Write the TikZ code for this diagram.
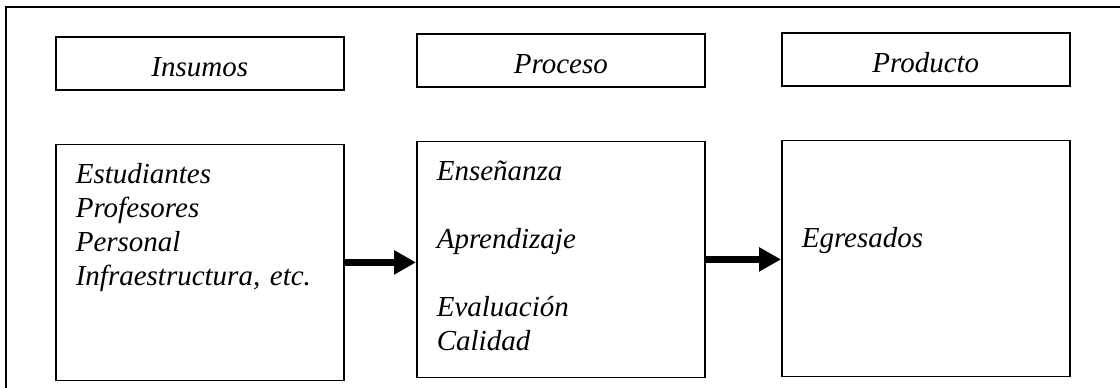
\documentclass[tikz,border=0pt]{standalone}
\usepackage{fontspec}
\setmainfont{Liberation Serif}
\usetikzlibrary{arrows.meta}
\usetikzlibrary{positioning}
\tikzset{
  part/.style={
    draw,
    black,
    rectangle,
    line width=1.6pt,
    inner sep=0pt,
    node font=\fontsize{29pt}{34pt}\selectfont\itshape,
  },
  header/.style={
    part,
    anchor=north west,
    minimum width=288pt,
    text height=40pt,
    text depth=13pt,
  },
  body/.style={
    part,
    text width=248pt,
    inner xsep=20pt,
    align=left,
    text height=39pt,
    text depth=197pt,
    node distance=53pt,
  },
  flow/.style={
    draw,
    -{Triangle[length=22pt,width=23pt]},
    line width=7pt,
  },
  frame/.style={
    draw,
    line width=1.4pt,
  }
}

\begin{document}
\begin{tikzpicture}[x=1pt,y=-1pt]
  \useasboundingbox (0,0) rectangle (1120,388);
  \clip (0,0) rectangle (1120,388);
  \fill[white] (0,0) rectangle (1120,388);
  \path [frame] (6,400) |- (1130,7);

  \node (insumos)  [header] at (55,36)  {Insumos};
  \node (proceso)  [header] at (416,33) {Proceso};
  \node (producto) [header] at (781,32) {Producto};

  \node (insumos body)  [body,below=of insumos]  {Estudiantes\\Profesores\\Personal\\Infraestructura, etc.};
  \node (proceso body)  [body,below=of proceso]  {Enseñanza\\[34pt]Aprendizaje\\[34pt]Evaluación\\Calidad};
  \node (producto body) [body,below=of producto] {\mbox{}\\[34pt]Egresados};

  \path [flow] (insumos body.east) -- (insumos body.east -| proceso body.west);
  \path [flow] (proceso body.east) -- (proceso body.east -| producto body.west);
\end{tikzpicture}
\end{document}
